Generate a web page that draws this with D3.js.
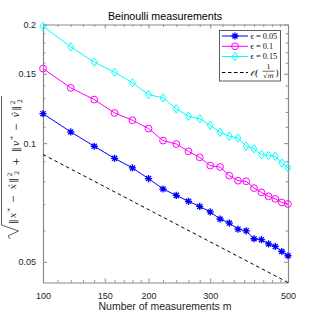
<!DOCTYPE html>
<html><head><meta charset="utf-8">
<script src="https://cdn.jsdelivr.net/npm/d3@7"></script>
<style>body{margin:0;background:#fff}svg{display:block}</style>
</head><body>
<svg id="c" width="319" height="319"></svg>
<script>
const mVals = [100,120,140,160,180,200,220,240,260,280,300,320,340,360,380,400,420,440,460,480,500];
const eps005 = [0.1188,0.1068,0.0982,0.0915,0.0865,0.0813,0.0765,0.0737,0.0712,0.0691,0.0669,0.0642,0.0627,0.0605,0.0599,0.0572,0.0569,0.0555,0.0547,0.0531,0.0518];
const eps010 = [0.1546,0.1381,0.1290,0.1193,0.1143,0.1089,0.1015,0.0995,0.0953,0.0920,0.0877,0.0870,0.0827,0.0803,0.0800,0.0769,0.0750,0.0733,0.0722,0.0707,0.0701];
const eps015 = [0.1980,0.1755,0.1605,0.1513,0.1422,0.1328,0.1303,0.1222,0.1170,0.1154,0.1110,0.1065,0.1041,0.1031,0.0982,0.0968,0.0935,0.0930,0.0926,0.0890,0.0866];
const boundM = [100,500];
const boundV = [0.0936,0.0443];
const xTicks = [100,150,200,300,500];
const xMinor = [110,120,130,140,160,170,180,190,220,240,260,280,325,350,375,400,425,450,475];
const yTicks = [0.05,0.1,0.15,0.2];
const yMinor = [0.06,0.07,0.08,0.09,0.11,0.12,0.13,0.14,0.16,0.17,0.18,0.19];
const seriesNames = ["\u03F5 = 0.05","\u03F5 = 0.1","\u03F5 = 0.15"];
const titleText = "Beinoulli measurements";
const xLabel = "Number of measurements m";

const svg = d3.select("#c");
const L=43,R=288,T=24.5,B=282.5;
const x = d3.scaleLog().domain([100,500]).range([L,R]);
const y = d3.scaleLog().domain([0.0443,0.2]).range([B,T]);
const axisCol = "#8a8a8a", txtCol = "#262626";

function styleAxis(g){
  g.select(".domain").attr("stroke",axisCol).attr("stroke-width",1.2);
  g.selectAll(".tick line").attr("stroke",axisCol).attr("stroke-width",1);
  g.selectAll(".tick text").attr("fill",txtCol).style("font-family","'Liberation Sans',Arial,sans-serif").style("font-size","9px");
}
svg.append("g").attr("transform",`translate(0,${B})`)
  .call(d3.axisBottom(x).tickValues(xTicks).tickFormat(d3.format("d")).tickSizeInner(-4).tickSizeOuter(0).tickPadding(10))
  .call(styleAxis);
svg.append("g").attr("transform",`translate(${L},0)`)
  .call(d3.axisLeft(y).tickValues(yTicks).tickFormat(d=>String(d)).tickSizeInner(-4).tickSizeOuter(0).tickPadding(7))
  .call(styleAxis);
svg.append("g").attr("transform",`translate(0,${T})`)
  .call(d3.axisTop(x).tickValues(xTicks).tickFormat("").tickSizeInner(-4).tickSizeOuter(0)).call(styleAxis);
svg.append("g").attr("transform",`translate(${R},0)`)
  .call(d3.axisRight(y).tickValues(yTicks).tickFormat("").tickSizeInner(-4).tickSizeOuter(0)).call(styleAxis);
[[d3.axisBottom(x).tickValues(xMinor),`translate(0,${B})`],[d3.axisTop(x).tickValues(xMinor),`translate(0,${T})`],
 [d3.axisLeft(y).tickValues(yMinor),`translate(${L},0)`],[d3.axisRight(y).tickValues(yMinor),`translate(${R},0)`]]
.forEach(([ax,tr])=>{
  svg.append("g").attr("transform",tr).call(ax.tickFormat("").tickSizeInner(-2.3).tickSizeOuter(0)).call(styleAxis)
    .select(".domain").remove();
});

const plot = svg.append("g");
const line = d3.line().x(d=>x(d[0])).y(d=>y(d[1]));
plot.append("path").datum(boundM.map((m,i)=>[m,boundV[i]])).attr("d",line)
  .attr("fill","none").attr("stroke","#000").attr("stroke-width",1).attr("stroke-dasharray","3.5,3");

const asterisk = r=>{const a=r*0.707;return `M0,${-r}V${r}M${-r},0H${r}M${-a},${-a}L${a},${a}M${-a},${a}L${a},${-a}`;};
const diamond = (w,h)=>`M0,${-h}L${w},0L0,${h}L${-w},0Z`;
const series = [
  {vals:eps005,col:"#0000ff"},
  {vals:eps010,col:"#ff00ff"},
  {vals:eps015,col:"#00ffff"}
];
function drawMarker(g,i,col){
  if(i===0){g.append("path").attr("d",asterisk(3.6)).attr("stroke",col).attr("stroke-width",1.3).attr("fill","none");
    g.append("circle").attr("r",1.6).attr("fill",col);}
  else if(i===1){g.append("circle").attr("r",3.4).attr("stroke",col).attr("stroke-width",1).attr("fill","none");}
  else {g.append("path").attr("d",diamond(3,4.2)).attr("stroke",col).attr("stroke-width",1).attr("fill","none");}
}
series.forEach((s,i)=>{
  const pts = mVals.map((m,k)=>[m,s.vals[k]]);
  plot.append("path").datum(pts).attr("d",line).attr("fill","none").attr("stroke",s.col).attr("stroke-width",1);
  pts.forEach(p=>{const g=plot.append("g").attr("transform",`translate(${x(p[0])},${y(p[1])})`);drawMarker(g,i,s.col);});
});

svg.append("text").attr("x",165).attr("y",19.5).attr("text-anchor","middle")
  .style("font-family","'Liberation Sans',Arial,sans-serif").style("font-size","10.7px").attr("fill","#000").text(titleText);
svg.append("text").attr("x",165).attr("y",310).attr("text-anchor","middle")
  .style("font-family","'Liberation Sans',Arial,sans-serif").style("font-size","10.5px").attr("fill",txtCol).text(xLabel);

// legend
const lg = svg.append("g");
lg.append("rect").attr("x",219.5).attr("y",30.5).attr("width",61).attr("height",50.5)
  .attr("fill","#fff").attr("stroke","#333").attr("stroke-width",0.8);
const rowsY=[36,46.3,56.5];
const serif="'DejaVu Serif','Liberation Serif',serif";
series.forEach((s,i)=>{
  lg.append("line").attr("x1",222).attr("x2",248).attr("y1",rowsY[i]).attr("y2",rowsY[i]).attr("stroke",s.col).attr("stroke-width",1);
  const g=lg.append("g").attr("transform",`translate(235,${rowsY[i]})`); drawMarker(g,i,s.col);
  lg.append("text").attr("x",250.5).attr("y",rowsY[i]+2.8).style("font-family","'Liberation Serif',serif").style("font-size","8.3px").attr("fill","#111").text(seriesNames[i]);
});
lg.append("line").attr("x1",222).attr("x2",248).attr("y1",72.5).attr("y2",72.5).attr("stroke","#000").attr("stroke-width",1).attr("stroke-dasharray","3.5,2.5");
lg.append("text").attr("x",250).attr("y",75.5).style("font-family",serif).style("font-size","8.5px").style("font-style","italic").attr("fill","#000").text("\uD835\uDCAA(");
lg.append("text").attr("x",268.5).attr("y",69).attr("text-anchor","middle").style("font-family",serif).style("font-size","6.5px").text("1");
lg.append("line").attr("x1",262.5).attr("x2",274.5).attr("y1",71.2).attr("y2",71.2).attr("stroke","#000").attr("stroke-width",0.6);
lg.append("text").attr("x",268.5).attr("y",78.3).attr("text-anchor","middle").style("font-family",serif).style("font-size","6.5px").html("\u221A<tspan font-style='italic'>m</tspan>");
lg.append("text").attr("x",275.5).attr("y",75.5).style("font-family",serif).style("font-size","8.5px").text(")");

// y label
const yl = svg.append("g").attr("transform","translate(11,163) rotate(-90)");
const yt = yl.append("text").attr("x",0).attr("y",4.5).style("font-family",serif).style("font-size","9.5px").attr("fill","#222");
const sub = "6.5px";
function piece(v){
  yt.append("tspan").text("\u2016");
  yt.append("tspan").style("font-style","italic").text(v);
  yt.append("tspan").attr("dy",-3.5).style("font-size",sub).text("*");
  yt.append("tspan").attr("dy",3.5).text(" \u2212 ");
  yt.append("tspan").style("font-style","italic").text(v+"\u0302");
  yt.append("tspan").text("\u2016");
  yt.append("tspan").attr("dy",-4).style("font-size",sub).text("2");
  yt.append("tspan").attr("dx",-3.7).attr("dy",7).style("font-size",sub).text("2");
  yt.append("tspan").attr("dy",-3).text("");
}
piece("x");
yt.append("tspan").text(" + ");
piece("v");
// stretch to the reference's span (about 137px) and center
const target = 136;
let w = yt.node().getComputedTextLength();
const nch = yt.text().length;
yt.style("letter-spacing", ((target - w)/nch) + "px");
w = yt.node().getBBox().width;
const x0 = -62, x1 = x0 + w;
yt.attr("x", x0 + 1);
yl.append("path").attr("d",`M${x0-14},-1 L${x0-11},-3 L${x0-6},7.5 L${x0},-9.5 L${x1+3},-9.5`)
  .attr("fill","none").attr("stroke","#333").attr("stroke-width",0.8);
</script>
</body></html>
